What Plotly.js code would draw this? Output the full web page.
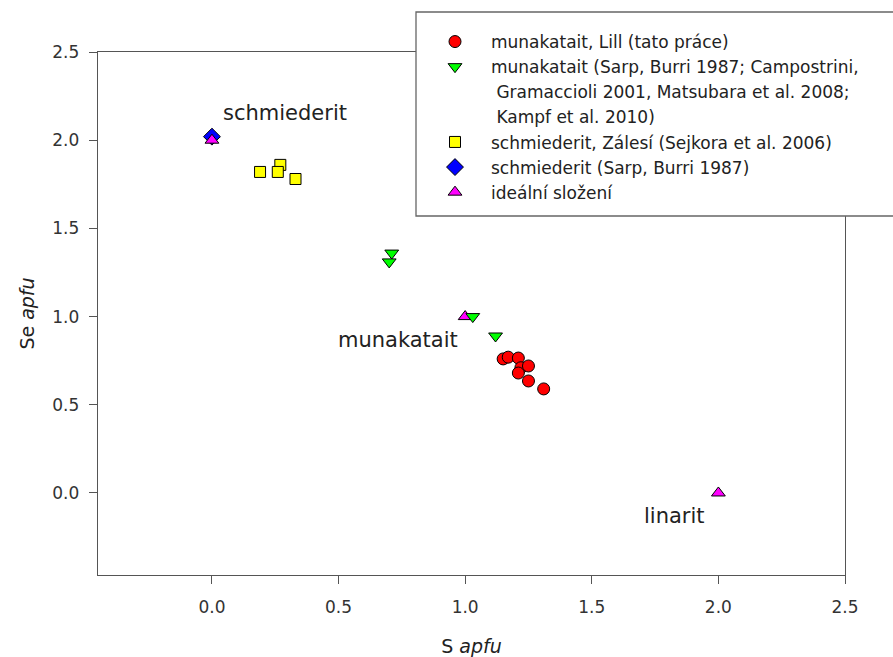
<!DOCTYPE html>
<html>
<head>
<meta charset="utf-8">
<script src="https://cdn.plot.ly/plotly-3.0.1.min.js"></script>
<style>html,body{margin:0;padding:0;background:#fff;}#chart{width:893px;height:657px;}</style>
</head>
<body>
<div id="chart"></div>
<script>
// Data
const lillS  = [1.15, 1.17, 1.21, 1.22, 1.25, 1.21, 1.25, 1.31];
const lillSe = [0.76, 0.77, 0.765, 0.71, 0.72, 0.68, 0.635, 0.59];

const munS  = [0.71, 0.70, 1.03, 1.12];
const munSe = [1.36, 1.31, 1.00, 0.89];

const zalS  = [0.19, 0.27, 0.26, 0.33];
const zalSe = [1.82, 1.86, 1.82, 1.78];

const schS  = [0.0];
const schSe = [2.02];

const idealS  = [0.0, 1.0, 2.0];
const idealSe = [2.0, 1.0, 0.0];

const legendNames = [
  'munakatait, Lill (tato práce)',
  'munakatait (Sarp, Burri 1987; Campostrini,',
  '\u00a0Gramaccioli 2001, Matsubara et al. 2008;',
  '\u00a0Kampf et al. 2010)',
  'schmiederit, Zálesí (Sejkora et al. 2006)',
  'schmiederit (Sarp, Burri 1987)',
  'ideální složení'
];

const labelText = ['schmiederit', 'munakatait', 'linarit'];
const labelS    = [0.288, 0.735, 1.825];
const labelSe   = [2.154, 0.867, -0.13];

const xTicks = [0, 0.5, 1.0, 1.5, 2.0, 2.5];
const yTicks = [0, 0.5, 1.0, 1.5, 2.0, 2.5];

const FONT = 'DejaVu Sans, Arial, sans-serif';
const mk = (sym, col, size) => ({symbol: sym, color: col, size: size, line: {color: '#000', width: 1}});
const blank = {color: 'rgba(0,0,0,0)', size: 1, line: {width: 0}};

const traces = [
  {x: lillS, y: lillSe, name: legendNames[0], mode: 'markers', type: 'scatter', legendrank: 1,
   marker: mk('circle', '#ff0000', 12)},
  {x: zalS, y: zalSe, name: legendNames[4], mode: 'markers', type: 'scatter', legendrank: 5,
   marker: mk('square', '#ffff00', 11)},
  {x: schS, y: schSe, name: legendNames[5], mode: 'markers', type: 'scatter', legendrank: 6,
   marker: mk('diamond', '#0000ff', 13)},
  {x: idealS, y: idealSe, name: legendNames[6], mode: 'markers', type: 'scatter', legendrank: 7,
   marker: mk('triangle-up', '#ff00ff', 12)},
  {x: munS, y: munSe, name: legendNames[1], mode: 'markers', type: 'scatter', legendrank: 2,
   marker: mk('triangle-down', '#00ff00', 12)},
  // continuation lines of the second legend entry (no marks)
  {x: [null], y: [null], name: legendNames[2], mode: 'markers', type: 'scatter', legendrank: 3, marker: blank},
  {x: [null], y: [null], name: legendNames[3], mode: 'markers', type: 'scatter', legendrank: 4, marker: blank}
];

const annotations = labelText.map((t, i) => ({
  x: labelS[i], y: labelSe[i], xref: 'x', yref: 'y', text: t, showarrow: false,
  font: {family: FONT, size: 21, color: '#222'}, xanchor: 'center', yanchor: 'middle'
}));

const axisCommon = {
  showline: true, mirror: true, linecolor: '#555', linewidth: 1.3,
  ticks: 'outside', ticklen: 8, tickwidth: 1, tickcolor: '#555',
  showgrid: false, zeroline: false, tickformat: '.1f',
  tickfont: {family: FONT, size: 17, color: '#333'}
};

const layout = {
  width: 893, height: 657,
  margin: {l: 98, r: 48, t: 52, b: 82, autoexpand: false},
  paper_bgcolor: '#fff', plot_bgcolor: '#fff',
  font: {family: FONT, color: '#222'},
  xaxis: Object.assign({}, axisCommon, {
    range: [-0.45, 2.5], tickvals: xTicks, ticklabelstandoff: 8,
    title: {text: 'S <i>apfu</i>', font: {family: FONT, size: 19, color: '#222'}, standoff: 24}
  }),
  yaxis: Object.assign({}, axisCommon, {
    range: [-0.465, 2.5], tickvals: yTicks, ticklabelstandoff: 6,
    title: {text: 'Se <i>apfu</i>', font: {family: FONT, size: 19, color: '#222'}, standoff: 12}
  }),
  shapes: [{
    type: 'rect', xref: 'paper', yref: 'paper', layer: 'above',
    x0: (416 - 98) / 747, x1: (905 - 98) / 747, y0: (575 - 216) / 523, y1: (575 - 12) / 523,
    fillcolor: '#fff', line: {color: '#666', width: 1.3}
  }],
  showlegend: true,
  legend: {
    x: (419 - 98) / 747, y: (575 - 24) / 523, xanchor: 'left', yanchor: 'top',
    bgcolor: 'rgba(0,0,0,0)', borderwidth: 0, itemwidth: 62,
    font: {family: FONT, size: 17, color: '#222'}, traceorder: 'normal'
  },
  annotations: annotations
};

Plotly.newPlot('chart', traces, layout, {displayModeBar: false, staticPlot: true});
</script>
</body>
</html>
